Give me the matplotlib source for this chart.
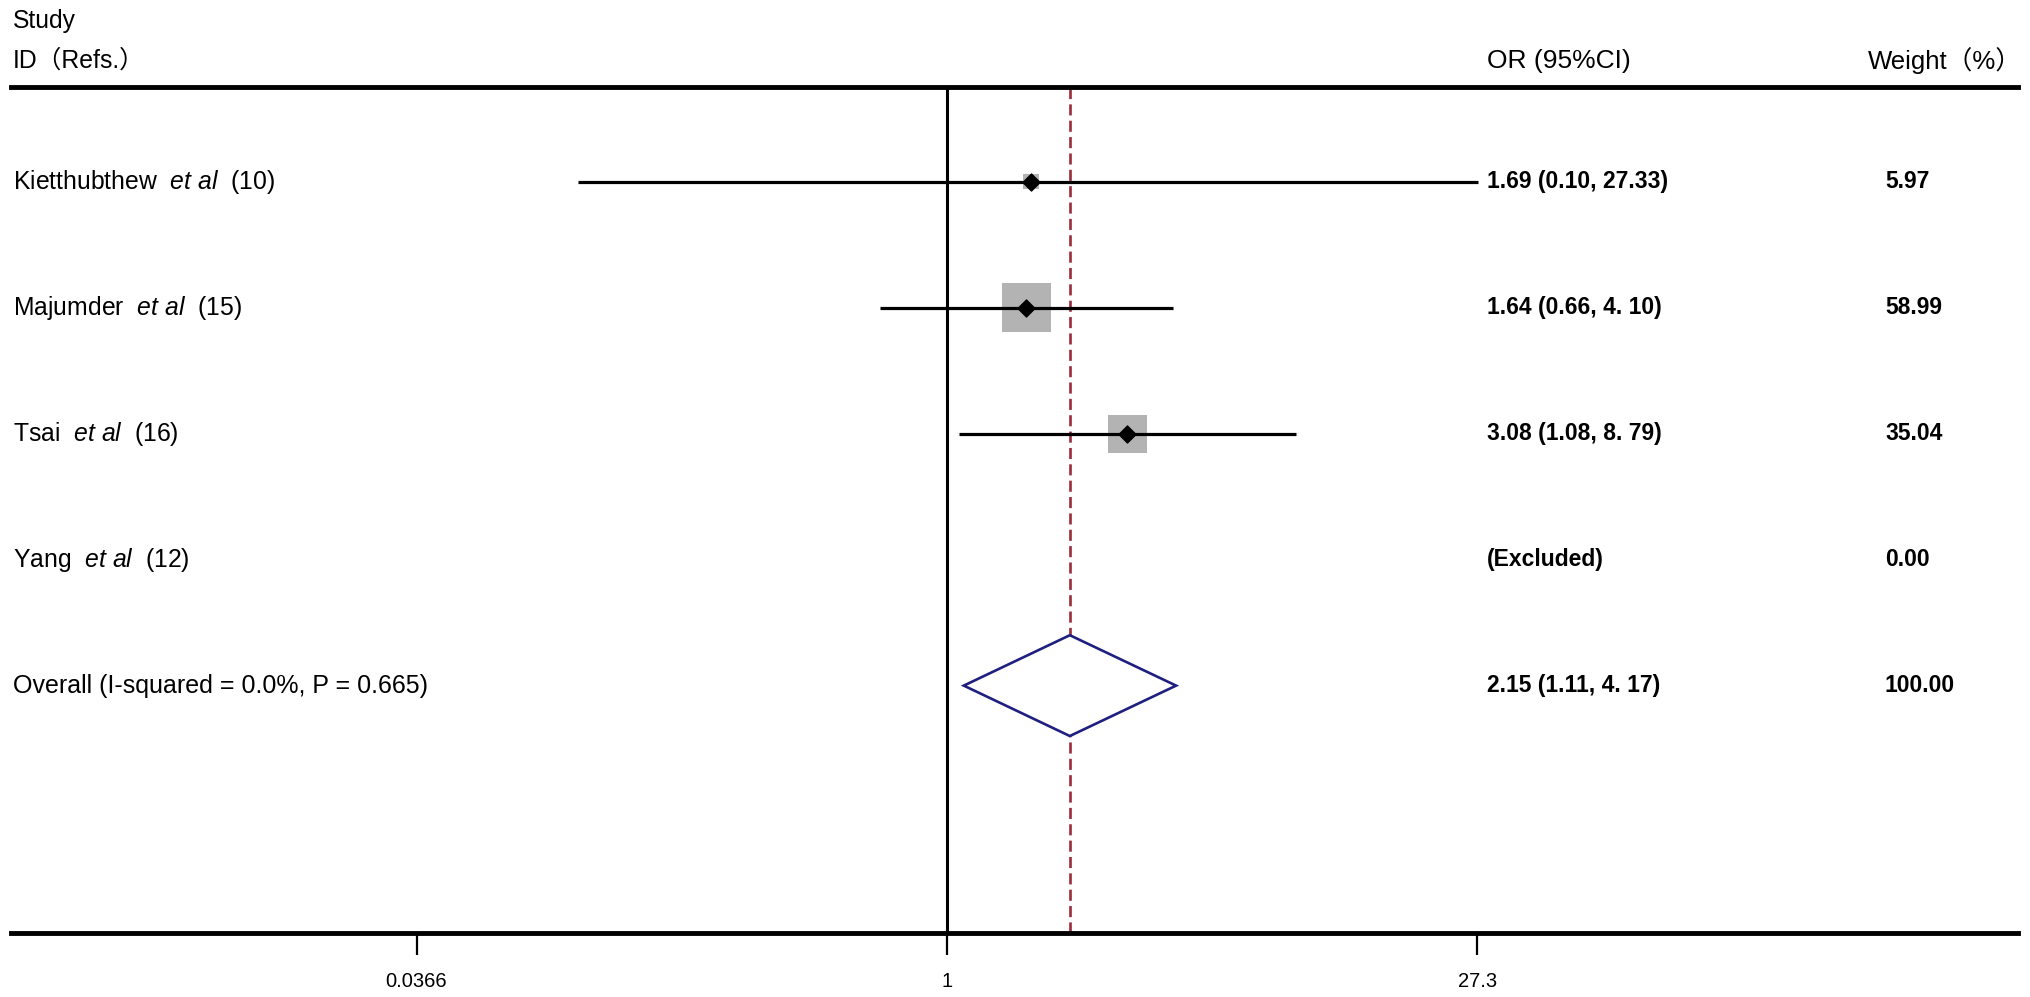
import numpy as np
import matplotlib
matplotlib.use("Agg")
import matplotlib.pyplot as plt

plt.rcParams['font.family'] = ['Liberation Sans', 'Noto Sans CJK SC', 'DejaVu Sans']
plt.rcParams['mathtext.fontset'] = 'custom'
plt.rcParams['mathtext.rm'] = 'Liberation Sans'
plt.rcParams['mathtext.it'] = 'Liberation Sans:italic'

# Data
studies = ["Kietthubthew  $\\mathit{et\\ al}$  (10)",
           "Majumder  $\\mathit{et\\ al}$  (15)",
           "Tsai  $\\mathit{et\\ al}$  (16)",
           "Yang  $\\mathit{et\\ al}$  (12)"]
odds = [1.69, 1.64, 3.08, np.nan]
ci_low = [0.10, 0.66, 1.08, np.nan]
ci_high = [27.33, 4.10, 8.79, np.nan]
weights = [5.97, 58.99, 35.04, 0.00]
or_text = ["1.69 (0.10, 27.33)", "1.64 (0.66, 4. 10)", "3.08 (1.08, 8. 79)", "(Excluded)"]
weight_text = ["5.97", "58.99", "35.04", "0.00"]

overall_label = "Overall (I-squared = 0.0%, P = 0.665)"
overall_or = 2.15
overall_low = 1.11
overall_high = 4.17
overall_text = "2.15 (1.11, 4. 17)"
overall_weight = "100.00"

tick_vals = [0.0366, 1, 27.3]
tick_labels = ["0.0366", "1", "27.3"]

# Figure
fig = plt.figure(figsize=(20.31, 9.97), dpi=100)
W, H = 2031, 997
ax = fig.add_axes([11 / W, 1 - 933 / H, 2007 / W, (933 - 87) / H])
ax.set_xscale('log')
ax.set_xlim(0.00292, 794)
ax.set_ylim(6.963, 0.25)

rows = np.arange(1, len(studies) + 1)
y_over = len(studies) + 1

# reference lines
ax.axvline(1, color='black', lw=2.2, zorder=2)
ax.axvline(overall_or, color='#9b2c3c', lw=1.9, dashes=(4.2, 2.0), zorder=2)

# study boxes, CIs and points
ax.scatter(odds, rows, marker='s', s=np.array(weights) * 21.5, color='#b3b3b3',
           edgecolors='none', zorder=3)
ax.hlines(rows, ci_low, ci_high, color='black', lw=2.3, zorder=4)
ax.scatter(odds, rows, marker='D', s=75, color='black', zorder=5)

# overall diamond
dx = [overall_low, overall_or, overall_high, overall_or, overall_low]
dy = [y_over, y_over - 0.4, y_over, y_over + 0.4, y_over]
ax.fill(dx, dy, facecolor='white', edgecolor='#1f1f80', lw=1.9, zorder=4)

# axis styling
for side in ['left', 'right']:
    ax.spines[side].set_visible(False)
for side in ['top', 'bottom']:
    ax.spines[side].set_linewidth(3.5)
ax.set_yticks([])
ax.set_xticks(tick_vals)
ax.set_xticklabels(tick_labels, fontsize=14.5)
ax.xaxis.set_minor_locator(matplotlib.ticker.NullLocator())
ax.tick_params(axis='x', length=16, width=1.6, pad=12)

# text columns
tr = ax.get_yaxis_transform()
x_or = (1487 - 11) / 2007
x_w = (1885 - 11) / 2007
for r, lab, ot, wt in zip(rows, studies, or_text, weight_text):
    ax.text(0.001, r, lab, transform=tr, fontsize=17.8, va='center', ha='left')
    ax.text(x_or, r, ot, transform=tr, fontsize=16.5, fontweight='bold', va='center', ha='left')
    ax.text(x_w, r, wt, transform=tr, fontsize=16.5, fontweight='bold', va='center', ha='left')
ax.text(0.001, y_over, overall_label, transform=tr, fontsize=18, va='center', ha='left')
ax.text(x_or, y_over, overall_text, transform=tr, fontsize=16.5, fontweight='bold', va='center', ha='left')
ax.text(x_w, y_over, overall_weight, transform=tr, fontsize=16.5, fontweight='bold', va='center', ha='left')

# headers
fig.text(13 / W, 1 - 21 / H, "Study", fontsize=17.8, va='center', ha='left')
fig.text(13 / W, 1 - 61 / H, "ID（Refs.）", fontsize=17.8, va='center', ha='left')
fig.text(1487 / W, 1 - 61 / H, "OR (95%CI)", fontsize=19, va='center', ha='left')
fig.text(2022 / W, 1 - 61 / H, "Weight（%）", fontsize=18.5, va='center', ha='right')

fig.savefig("out.png", dpi=100)
